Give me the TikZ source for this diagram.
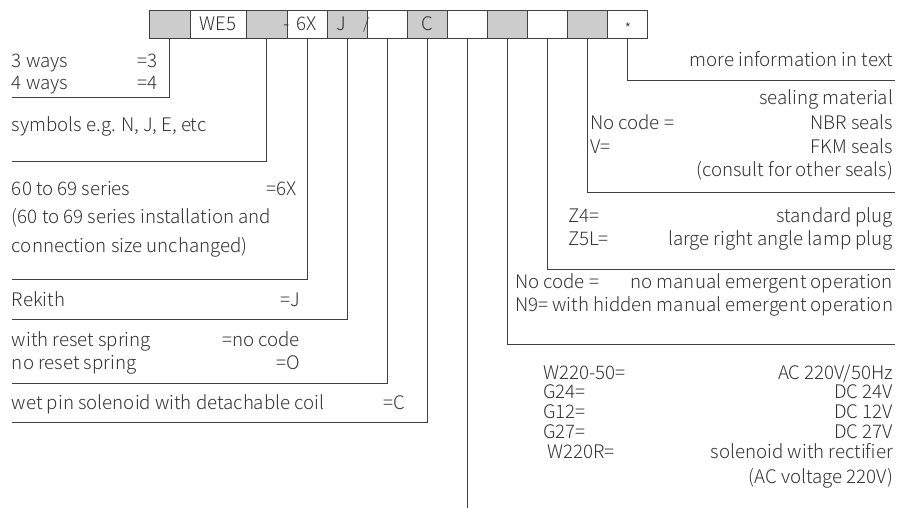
\documentclass[tikz,border=0pt]{standalone}
\usepackage{fontspec}
\setmainfont{Noto Sans CJK SC Light}
\begin{document}
\begin{tikzpicture}[x=1pt,y=-1pt,
  txt/.style={inner sep=0pt,outer sep=0pt,text=black!80,font=\fontsize{18.7}{22}\selectfont,yshift=-3.5pt},
  glyph/.style={inner sep=0pt,outer sep=0pt,text=black!80,anchor=base},
  cell/.style={draw=black!75,line width=0.8pt,minimum height=28pt,inner sep=0pt,outer sep=0pt,text=black!80,font=\fontsize{18.7}{22}\selectfont},
  gcell/.style={cell,fill=black!20},
  wcell/.style={cell,fill=white},
  lead/.style={draw=black!75,line width=0.7pt}]
\useasboundingbox (0,0) rectangle (897,508);
% header cells
\node[gcell,minimum width=41pt] (b1) at (169.5,24) {};
\node[wcell,minimum width=56pt] (b2) at (218,24) {WE5};
\node[gcell,minimum width=41pt] (b3) at (266.5,24) {};
\node[wcell,minimum width=40pt] (b4) at (307,24) {6X};
\node[gcell,minimum width=40pt] (b5) at (347,24) {};
\node[wcell,minimum width=40pt] (b6) at (387,24) {};
\node[gcell,minimum width=40pt] (b7) at (427,24) {C};
\node[wcell,minimum width=40pt] (b8) at (467,24) {};
\node[gcell,minimum width=40pt] (b9) at (507,24) {};
\node[wcell,minimum width=40pt] (b10) at (547,24) {};
\node[gcell,minimum width=40pt] (b11) at (587,24) {};
\node[wcell,minimum width=40pt] (b12) at (627,24) {};
\node[txt,yshift=3.5pt] (tJ) at (341,24) {J};
\node[glyph,font=\fontsize{18.7}{22}\selectfont] (tdash) at (287,31) {-};
\node[glyph,font=\fontsize{15}{18}\selectfont] (tslash) at (366,30) {/};
\node[glyph,font=\fontsize{15}{18}\selectfont] (tstar) at (628,35) {*};
% leader end points
\coordinate (l1) at (12,97);
\coordinate (l3) at (12,161);
\coordinate (l4) at (12,279);
\coordinate (l5) at (12,319);
\coordinate (l6) at (12,383);
\coordinate (l7) at (12,422);
\coordinate (d8) at (467,508);
\coordinate (r9) at (895,344);
\coordinate (r10) at (895,269);
\coordinate (r11) at (895,192);
\coordinate (r12) at (895,80);
\draw[lead] (b1.south) |- (l1);
\draw[lead] (b3.south) |- (l3);
\draw[lead] (b4.south) |- (l4);
\draw[lead] (b5.south) |- (l5);
\draw[lead] (b6.south) |- (l6);
\draw[lead] (b7.south) |- (l7);
\draw[lead] (b8.south) -- (d8);
\draw[lead] (b9.south) |- (r9);
\draw[lead] (b10.south) |- (r10);
\draw[lead] (b11.south) |- (r11);
\draw[lead] (b12.south) |- (r12);
% left texts
\node[txt,anchor=mid west] (a1) at (12,61) {3 ways};
\node[txt,anchor=mid east] (a1e) at (158,61) {=3};
\node[txt,anchor=mid west] (a2) at (12,83) {4 ways};
\node[txt,anchor=mid east] (a2e) at (158,83) {=4};
\node[txt,anchor=mid west] (a3) at (12,125) {symbols e.g. N, J, E, etc};
\node[txt,anchor=mid west] (a4) at (12,189) {60 to 69 series};
\node[txt,anchor=mid east] (a4e) at (297,189) {=6X};
\node[txt,anchor=mid west] (a5) at (12,217) {(60 to 69 series installation and};
\node[txt,anchor=mid west] (a6) at (12,246) {connection size unchanged)};
\node[txt,anchor=mid west] (a7) at (12,300) {Rekith};
\node[txt,anchor=mid east] (a7e) at (300,300) {=J};
\node[txt,anchor=mid west] (a8) at (12,340) {with reset spring};
\node[txt,anchor=mid east] (a8e) at (300,340) {=no code};
\node[txt,anchor=mid west] (a9) at (12,363) {no reset spring};
\node[txt,anchor=mid east] (a9e) at (300,363) {=O};
\node[txt,anchor=mid west] (a10) at (12,403) {wet pin solenoid with detachable coil};
\node[txt,anchor=mid east] (a10e) at (405,403) {=C};
% right texts
\node[txt,anchor=mid east] (c1) at (893,60) {more information in text};
\node[txt,anchor=mid east] (c2) at (893,98) {sealing material};
\node[txt,anchor=mid west] (c3) at (590,123) {No code =};
\node[txt,anchor=mid east] (c3e) at (893,123) {NBR seals};
\node[txt,anchor=mid west] (c4) at (590,147) {V=};
\node[txt,anchor=mid east] (c4e) at (893,147) {FKM seals};
\node[txt,anchor=mid east] (c5) at (893,170) {(consult for other seals)};
\node[txt,anchor=mid west] (c6) at (568,216) {Z4=};
\node[txt,anchor=mid east] (c6e) at (893,216) {standard plug};
\node[txt,anchor=mid west] (c7) at (568,239) {Z5L=};
\node[txt,anchor=mid east] (c7e) at (893,239) {large right angle lamp plug};
\node[txt,anchor=mid west] (c8) at (515,282) {No code =};
\node[txt,anchor=mid east] (c8e) at (893,282) {no manual emergent operation};
\node[txt,anchor=mid west] (c9) at (515,305) {N9= with hidden manual emergent operation};
\node[txt,anchor=mid west] (c10) at (543,373) {W220-50=};
\node[txt,anchor=mid east] (c10e) at (893,373) {AC 220V/50Hz};
\node[txt,anchor=mid west] (c11) at (543,392) {G24=};
\node[txt,anchor=mid east] (c11e) at (893,392) {DC 24V};
\node[txt,anchor=mid west] (c12) at (543,412) {G12=};
\node[txt,anchor=mid east] (c12e) at (893,412) {DC 12V};
\node[txt,anchor=mid west] (c13) at (543,432) {G27=};
\node[txt,anchor=mid east] (c13e) at (893,432) {DC 27V};
\node[txt,anchor=mid west] (c14) at (547,452) {W220R=};
\node[txt,anchor=mid east] (c14e) at (893,452) {solenoid with rectifier};
\node[txt,anchor=mid east] (c15) at (893,477) {(AC voltage 220V)};
\end{tikzpicture}
\end{document}
